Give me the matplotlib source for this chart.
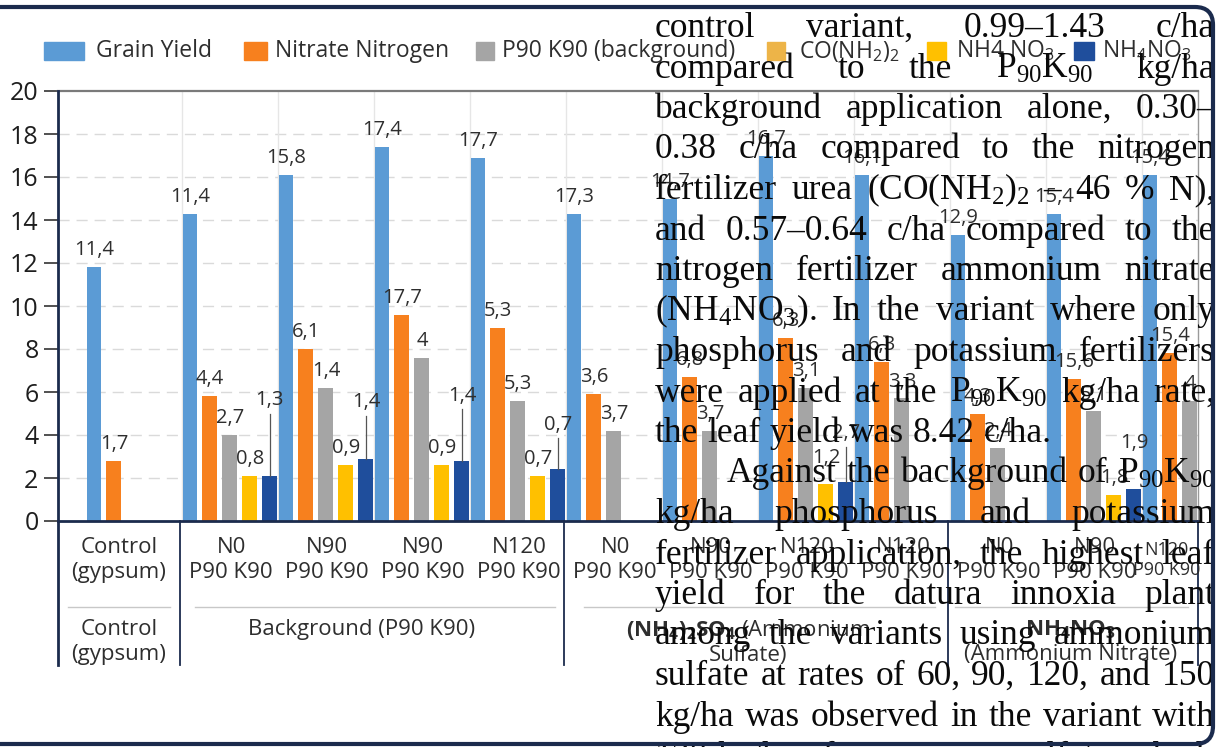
import numpy as np
import matplotlib
matplotlib.use("Agg")
import matplotlib.pyplot as plt
from matplotlib.patches import Rectangle, FancyBboxPatch
from matplotlib.transforms import IdentityTransform

plt.rcParams['font.family'] = ['Open Sans', 'DejaVu Sans']
plt.rcParams['mathtext.fontset'] = 'custom'
plt.rcParams['mathtext.rm'] = 'Open Sans'
plt.rcParams['mathtext.bf'] = 'Open Sans:bold'
plt.rcParams['mathtext.it'] = 'Open Sans:italic'

# ---- chart data ----
tick_top = ["Control", "N0", "N90", "N90", "N120", "N0", "N90", "N120", "N120", "N0", "N90", "N120"]
tick_bottom = ["(gypsum)"] + ["P90 K90"] * 11

grain_yield = [11.8, 14.3, 16.1, 17.4, 16.9, 14.3, 15.0, 17.0, 16.1, 13.3, 14.3, 16.1]
nitrate_n = [2.8, 5.8, 8.0, 9.6, 9.0, 5.9, 6.7, 8.5, 7.4, 5.0, 6.6, 7.8]
background = [None, 4.0, 6.2, 7.6, 5.6, 4.2, 4.2, 6.2, 5.7, 3.4, 5.1, 5.6]
urea = [None, 2.1, 2.6, 2.6, 2.1, None, None, 1.7, None, None, 1.2, None]
amm_nitrate = [None, 2.1, 2.9, 2.8, 2.4, None, None, 1.8, None, None, 1.5, None]

grain_labels = ["11,4", "11,4", "15,8", "17,4", "17,7", "17,3", "14,7", "16,7", "16,1", "12,9", "15,4", "15,4"]
nitrate_labels = ["1,7", "4,4", "6,1", "17,7", "5,3", "3,6", "6,8", "6,3", "6,3", "4,3", "15,6", "15,4"]
background_labels = [None, "2,7", "1,4", "4", "5,3", "3,7", "3,7", "3,1", "3,3", "2,4", "5,1", "4"]
urea_labels = [None, "0,8", "0,9", "0,9", "0,7", None, None, "1,2", None, None, "1,8", None]
amm_nitrate_labels = [None, "1,3", "1,4", "1,4", "0,7", None, None, "2,7", None, None, "1,9", None]

legend_names = ["Grain Yield", "Nitrate Nitrogen", "P90 K90 (background)",
                "CO(NH$_2$)$_2$", "NH4 NO$_3$", "NH$_4$NO$_3$"]

group_names = ["Control\n(gypsum)", "Background (P90 K90)",
               r"$\mathbf{(NH_4)_2SO_4}$ (Ammonium" + "\nSulfate)",
               r"$\mathbf{NH_4NO_3}$" + "\n(Ammonium Nitrate)"]

# overlaid document text: (line, mode) j = justified, l = last line, i = indented
para_lines = [
    ("control variant, 0.99–1.43 c/ha", "j"),
    (r"compared to the P$_{\mathdefault{90}}$K$_{\mathdefault{90}}$ kg/ha", "j"),
    ("background application alone, 0.30–", "j"),
    ("0.38 c/ha compared to the nitrogen", "j"),
    (r"fertilizer urea (CO(NH$_{\mathdefault{2}}$)$_{\mathdefault{2}}$ – 46 % N),", "j"),
    ("and 0.57–0.64 c/ha compared to the", "j"),
    ("nitrogen fertilizer ammonium nitrate", "j"),
    (r"(NH$_{\mathdefault{4}}$NO$_{\mathdefault{3}}$). In the variant where only", "j"),
    ("phosphorus and potassium fertilizers", "j"),
    (r"were applied at the P$_{\mathdefault{90}}$K$_{\mathdefault{90}}$ kg/ha rate,", "j"),
    ("the leaf yield was 8.42 c/ha.", "l"),
    (r"Against the background of P$_{\mathdefault{90}}$K$_{\mathdefault{90}}$", "i"),
    ("kg/ha phosphorus and potassium", "j"),
    ("fertilizer application, the highest leaf", "j"),
    ("yield for the datura innoxia plant", "j"),
    ("among the variants using ammonium", "j"),
    ("sulfate at rates of 60, 90, 120, and 150", "j"),
    ("kg/ha was observed in the variant with", "j"),
    ("120 kg/ha of ammonium sulfate, which", "j"),
]

# ---- figure ----
W, H = 1217, 747
fig = plt.figure(figsize=(W / 100, H / 100), dpi=100)
fig.patch.set_facecolor('white')


def fx(px):
    return px / W


def fy(py):
    return 1 - py / H


ax = fig.add_axes([fx(58), fy(521), fx(1198) - fx(58), fy(91) - fy(521)])
ax.set_xlim(-0.375, 11.5)
ax.set_ylim(0, 20)


def ay(py):
    # image pixel row -> axes fraction
    return (521 - py) / 430


navy = '#1B2B4D'
colors = ['#5B9BD5', '#F7801E', '#A5A5A5', '#FFC000', '#1F4E9C']
series = [grain_yield, nitrate_n, background, urea, amm_nitrate]
series_labels = [grain_labels, nitrate_labels, background_labels, urea_labels, amm_nitrate_labels]

x = np.arange(len(grain_yield))
step, width = 0.208, 0.156
leader_lift = {1: 3.3, 2: 2.4, 3: 2.8, 4: 1.85, 7: 2.05, 10: 1.9}

for k, (vals, labs, col) in enumerate(zip(series, series_labels, colors)):
    idx = [i for i, v in enumerate(vals) if v is not None]
    xs = x[idx] + k * step
    hs = [vals[i] for i in idx]
    ax.bar(xs, hs, width, color=col, zorder=2)
    for xi, i in zip(xs, idx):
        v = vals[i]
        lift = 0.55
        if k == 4 and i in leader_lift:
            lift = leader_lift[i]
            if i != 10:
                ax.plot([xi, xi], [v, v + lift - 0.4], color='#555555', lw=0.9, zorder=3)
        elif k == 3 and i == 7:
            lift = 1.0
        ax.text(xi, v + lift, labs[i], ha='center', va='baseline', fontsize=14.5,
                color='#2e2e2e', zorder=4)

# grid
for yv in range(2, 20, 2):
    ax.axhline(yv, color='#dadada', lw=1, ls=(0, (8, 5)), zorder=0)
for i in range(1, 12):
    ax.axvline(i - 0.08, color='#e6e6e6', lw=1, zorder=0)

ax.set_xticks([])
ax.set_yticks(range(0, 21, 2))
ax.tick_params(axis='y', labelsize=18, length=10, width=1.2, color='#333333',
               labelcolor='#1e1e1e', pad=4)
ax.spines['left'].set_visible(False)
ax.spines['bottom'].set_color(navy)
ax.spines['bottom'].set_linewidth(2)
ax.spines['top'].set_color('#7a7a7a')
ax.spines['top'].set_linewidth(1.6)
ax.spines['right'].set_color('#9a9a9a')
ax.spines['right'].set_linewidth(1)

# left axis line runs down through the category table
ax.plot([0, 0], [1, ay(665)], transform=ax.transAxes, color=navy, lw=2, clip_on=False, zorder=5)

trans = ax.get_xaxis_transform()
# category table separators
for xs_ in [0.9, 4.9, 8.9, 11.5]:
    ax.plot([xs_, xs_], [0, ay(665)], transform=trans, color=navy, lw=1.3, clip_on=False)
for x0, x1 in [(-0.27, 0.79), (1.05, 4.8), (5.1, 8.76), (8.97, 11.4)]:
    ax.plot([x0, x1], [ay(607), ay(607)], transform=trans, color='#c8c8c8', lw=1, clip_on=False)

# tick labels
tick_x = [0.26] + [i + 0.43 for i in range(1, 11)] + [11.17]
for i, (t, b) in enumerate(zip(tick_top, tick_bottom)):
    ax.text(tick_x[i], ay(560), f"{t}\n{b}", transform=trans, ha='center', va='center',
            fontsize=13 if i == 11 else 16, color='#2e2e2e', linespacing=1.2, clip_on=False)

# group labels
ax.text(0.26, ay(642), group_names[0], transform=trans, ha='center', va='center',
        fontsize=16, color='#2e2e2e', linespacing=1.2, clip_on=False)
ax.text(2.79, ay(630), group_names[1], transform=trans, ha='center', va='center',
        fontsize=16, color='#2e2e2e', clip_on=False)
ax.text(6.81, ay(642), group_names[2], transform=trans, ha='center', va='center',
        fontsize=16, color='#2e2e2e', linespacing=1.2, clip_on=False)
ax.text(10.17, ay(642), group_names[3], transform=trans, ha='center', va='center',
        fontsize=16, color='#2e2e2e', linespacing=1.2, clip_on=False)

# legend drawn by hand in pixel positions
legend_colors = ['#5B9BD5', '#F7801E', '#A5A5A5', '#EDB448', '#FFC000', '#1F4E9C']
legend_patch = [(44, 84), (244, 267), (476, 494), (767, 785), (927, 946), (1074, 1094)]
legend_text_x = [96, 275, 502, 799, 956, 1102]
for (p0, p1), tx, col, name in zip(legend_patch, legend_text_x, legend_colors, legend_names):
    fig.add_artist(Rectangle((fx(p0), fy(60)), fx(p1) - fx(p0), fy(42) - fy(60),
                             transform=fig.transFigure, color=col, zorder=2))
    fig.text(fx(tx), fy(51), name, ha='left', va='center', fontsize=16.5, color='#2e2e2e', zorder=2)

# overlaid justified paragraph
renderer = fig.canvas.get_renderer()
left, right, indent = 655, 1215, 72
for k, (line, mode) in enumerate(para_lines):
    base = 37 + 40.5 * k
    words = line.split(' ')
    arts = [fig.text(0, 0, w, fontsize=25.5, family='Liberation Serif', color='#0a0a0a',
                     ha='left', va='baseline', zorder=5) for w in words]
    widths = [a.get_window_extent(renderer).width for a in arts]
    x0 = left + (indent if mode == 'i' else 0)
    if mode == 'l':
        gap = 8.8
    else:
        gap = (right - x0 - sum(widths)) / (len(words) - 1)
    cur = x0
    for a, wd in zip(arts, widths):
        a.set_position((fx(cur), fy(base)))
        cur += wd + gap

# page frame
fig.add_artist(FancyBboxPatch((-40, 3), 1253, 737, boxstyle="round,pad=0,rounding_size=18",
                              transform=IdentityTransform(), facecolor='none',
                              edgecolor=navy, lw=3, zorder=6))

fig.savefig("out.png", dpi=100)
